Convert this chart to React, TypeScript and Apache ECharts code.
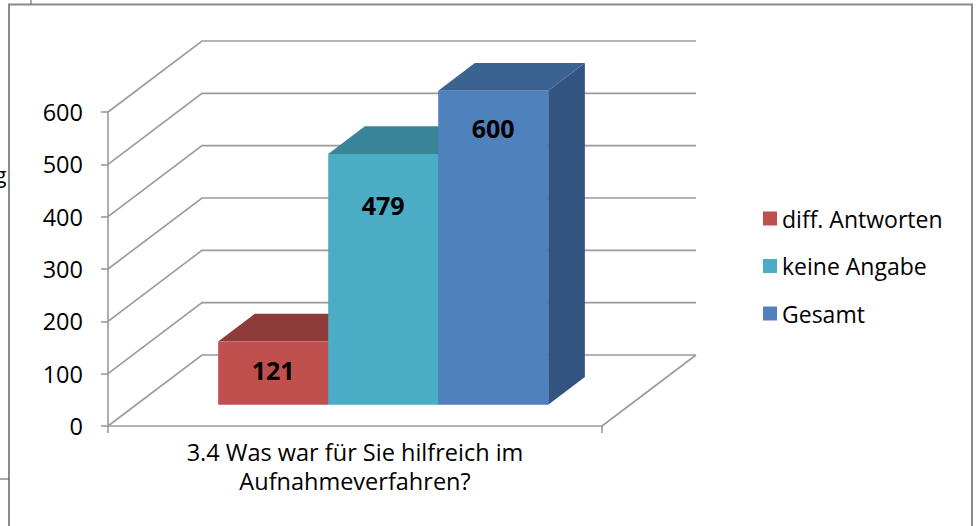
import React, { useEffect, useRef } from "react";
import * as echarts from "echarts";

const categories = ["3.4 Was war für Sie hilfreich im\nAufnahmeverfahren?"];
const seriesNames = ["diff. Antworten", "keine Angabe", "Gesamt"];
const seriesValues = [121, 479, 600];
const yTicks = [0, 100, 200, 300, 400, 500, 600];

const frontColors = ["#C0504D", "#4BACC6", "#4F81BD"];
const topColors = ["#8D3C3A", "#3A8497", "#3B6391"];
const sideColors = ["#8A3634", "#367C8E", "#335480"];
// layout: distance (px) of each data label below the top edge of its bar's front face
const LABEL_OFFSETS = [29, 51, 37];

const DX = 94;
const DY = -71;
const Z0 = 0.3;
const Z1 = 0.69;
const BAR_FRAC = 0.2227;
const FONT = "'Open Sans', 'Noto Sans', sans-serif";
const GRID_COLOR = "#9a9a9a";

export default function App() {
  const ref = useRef<HTMLDivElement>(null);
  useEffect(() => {
    if (!ref.current) return;
    const chart = echarts.init(ref.current, undefined, { renderer: "svg" });

    const wallSeries: any = {
      type: "custom",
      name: "walls",
      coordinateSystem: "cartesian2d",
      silent: true,
      clip: false,
      z: 1,
      encode: { x: 0, y: 1 },
      data: yTicks.map((t) => [0, t]),
      renderItem: (params: any, api: any) => {
        const t = api.value(1);
        const p = api.coord([0, t]);
        const cs = params.coordSys;
        const gx = cs.x;
        const gw = cs.width;
        const children: any[] = [
          {
            type: "polyline",
            shape: {
              points: [
                [gx, p[1]],
                [gx + DX, p[1] + DY],
                [gx + gw + DX, p[1] + DY],
              ],
            },
            style: { stroke: GRID_COLOR, lineWidth: 1.6, fill: "none" },
          },
        ];
        if (t === 0) {
          children.push({
            type: "line",
            shape: { x1: gx + gw, y1: p[1], x2: gx + gw + DX, y2: p[1] + DY },
            style: { stroke: GRID_COLOR, lineWidth: 1.6 },
          });
        }
        return { type: "group", children };
      },
    };

    const barSeries = seriesNames.map((name, i) => ({
      type: "custom",
      name,
      coordinateSystem: "cartesian2d",
      clip: false,
      z: 3 + i,
      itemStyle: { color: frontColors[i] },
      encode: { x: 0, y: 1 },
      data: [[0, seriesValues[i]]],
      renderItem: (params: any, api: any) => {
        const v = api.value(1);
        const base = api.coord([0, 0]);
        const top = api.coord([0, v]);
        const band = api.size([1, 0])[0];
        const bw = band * BAR_FRAC;
        const xl = base[0] - 1.5 * bw + i * bw + Z0 * DX;
        const xr = xl + bw;
        const yb = base[1] + Z0 * DY;
        const yt = top[1] + Z0 * DY;
        const ddx = (Z1 - Z0) * DX;
        const ddy = (Z1 - Z0) * DY;
        const h = yb - yt;
        const labelY = yt + Math.min(LABEL_OFFSETS[i], h - 12);
        return {
          type: "group",
          children: [
            {
              type: "polygon",
              shape: { points: [[xr, yt], [xr + ddx, yt + ddy], [xr + ddx, yb + ddy], [xr, yb]] },
              style: { fill: sideColors[i] },
            },
            {
              type: "polygon",
              shape: { points: [[xl, yt], [xr, yt], [xr + ddx, yt + ddy], [xl + ddx, yt + ddy]] },
              style: { fill: topColors[i] },
            },
            {
              type: "rect",
              shape: { x: xl, y: yt, width: bw, height: h },
              style: { fill: frontColors[i] },
            },
            {
              type: "text",
              x: (xl + xr) / 2,
              y: labelY,
              style: {
                text: String(v),
                fill: "#000",
                font: `bold 25px ${FONT}`,
                align: "center",
                verticalAlign: "middle",
              },
            },
          ],
        };
      },
    }));

    chart.setOption({
      animation: false,
      backgroundColor: "#fff",
      grid: { left: 108, top: 112, width: 494, height: 314 },
      legend: {
        orient: "vertical",
        left: 758,
        top: 202,
        icon: "rect",
        itemWidth: 14,
        itemHeight: 14,
        itemGap: 24.5,
        data: seriesNames,
        textStyle: { fontFamily: FONT, fontSize: 23, color: "#000", lineHeight: 23, padding: [0, 0, 0, 0] },
      },
      xAxis: {
        type: "category",
        data: categories,
        axisLine: { show: true, lineStyle: { color: GRID_COLOR, width: 1.6 } },
        axisTick: { show: true, length: 7, lineStyle: { color: GRID_COLOR, width: 1.6 } },
        axisLabel: {
          margin: 11,
          fontFamily: FONT,
          fontSize: 23.5,
          lineHeight: 29,
          color: "#000",
          align: "center",
        },
        splitLine: { show: false },
      },
      yAxis: {
        type: "value",
        min: 0,
        max: 600,
        interval: 100,
        axisLine: { show: true, lineStyle: { color: GRID_COLOR, width: 1.6 } },
        axisTick: { show: true, length: 7, lineStyle: { color: GRID_COLOR, width: 1.6 } },
        axisLabel: { margin: 25, fontFamily: FONT, fontSize: 23.5, color: "#000" },
        splitLine: { show: false },
      },
      graphic: [
        {
          type: "rect",
          z: 0,
          shape: { x: 9, y: 4.5, width: 963, height: 600 },
          style: { fill: "none", stroke: "#8a8a8a", lineWidth: 2 },
          silent: true,
        },
        {
          type: "line",
          shape: { x1: 31, y1: 0, x2: 31, y2: 4 },
          style: { stroke: "#555", lineWidth: 1 },
        },
        {
          type: "line",
          shape: { x1: 0, y1: 479, x2: 9, y2: 479 },
          style: { stroke: "#555", lineWidth: 1 },
        },
        {
          type: "text",
          x: -5,
          y: 175,
          style: { text: "g", fill: "#000", font: `21px ${FONT}`, verticalAlign: "middle" },
        },
      ],
      series: [wallSeries, ...barSeries],
    });
    return () => chart.dispose();
  }, []);
  return (
    <div
      ref={ref}
      style={{ position: "fixed", left: 0, top: 0, width: 979, height: 526, background: "#fff" }}
    />
  );
}
